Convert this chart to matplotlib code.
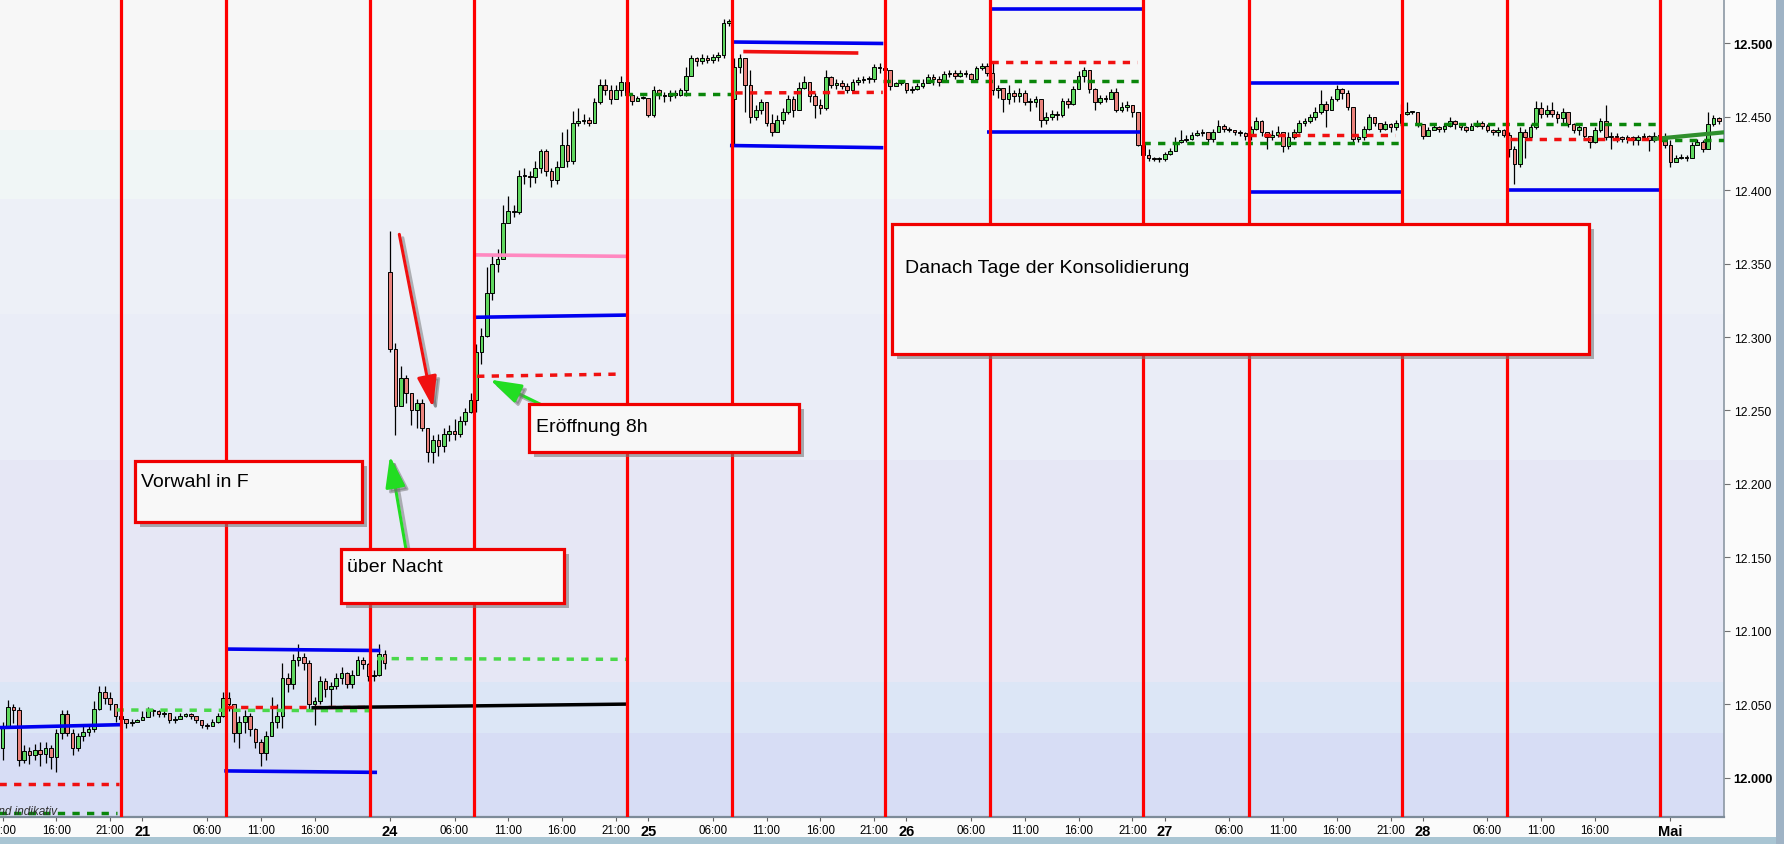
import matplotlib
matplotlib.use("Agg")
import matplotlib.pyplot as plt
import matplotlib.patheffects as pe
from matplotlib.patches import Rectangle, FancyArrowPatch
import numpy as np

plt.rcParams['font.family'] = ['Liberation Sans', 'DejaVu Sans']

# ---------------------------------------------------------------- data
# time axis in hours (Thu 20 Apr 00:00 = 0), weekends collapsed, 30-min candles
seg1_start = 11.0
seg1_open = 12020
seg1_close = [12035, 12048, 12046, 12012, 12018, 12015, 12019, 12016, 12020, 12014,
              12030, 12043, 12030, 12020, 12028, 12031, 12033, 12047, 12058, 12054,
              12050, 12042, 12040,
              12037, 12038, 12039, 12041, 12046, 12045, 12043, 12044, 12039, 12040,
              12042, 12043, 12042, 12039, 12036, 12035, 12038, 12042, 12054,
              12050, 12030, 12038, 12042, 12033, 12024, 12017, 12028, 12038, 12042,
              12068, 12064, 12080, 12082, 12078, 12050, 12052, 12066, 12060, 12062,
              12068, 12071, 12064, 12070, 12080, 12077, 12069, 12070, 12084, 12078]
seg1_high = [12038, 12053, 12050, 12048, 12022, 12021, 12023, 12024, 12024, 12022,
             12033, 12046, 12046, 12033, 12030, 12035, 12036, 12052, 12062, 12062,
             12058, 12048, 12043,
             12040, 12040, 12040, 12045, 12048, 12047, 12046, 12046, 12043, 12042,
             12044, 12044, 12044, 12042, 12039, 12037, 12040, 12044, 12058,
             12058, 12050, 12042, 12046, 12044, 12034, 12026, 12032, 12055, 12050,
             12078, 12071, 12084, 12091, 12085, 12080, 12055, 12069, 12068, 12065,
             12071, 12075, 12072, 12073, 12083, 12082, 12078, 12073, 12091, 12087]
seg1_low = [12012, 12034, 12037, 12008, 12010, 12009, 12012, 12008, 12010, 12006,
            12004, 12026, 12028, 12015, 12018, 12025, 12028, 12031, 12046, 12050,
            12046, 12038, 12036,
            12034, 12035, 12038, 12039, 12044, 12042, 12041, 12041, 12037, 12037,
            12040, 12041, 12040, 12037, 12034, 12033, 12035, 12037, 12041,
            12045, 12024, 12020, 12030, 12028, 12020, 12008, 12012, 12030, 12034,
            12034, 12058, 12060, 12076, 12073, 12046, 12036, 12050, 12055, 12049,
            12060, 12064, 12061, 12061, 12070, 12074, 12066, 12066, 12069, 12074]

seg2_start = 47.0
seg2_open = 12344
seg2_close = [12292, 12253, 12272, 12262, 12250, 12255, 12238, 12222, 12230, 12226,
              12234, 12236, 12234, 12243, 12249, 12257,
              12290, 12301, 12330, 12350, 12353, 12378, 12386, 12385, 12410, 12410,
              12409, 12415, 12427, 12413, 12407, 12416, 12431, 12420, 12446, 12447,
              12448, 12446, 12460, 12472, 12468, 12462, 12468, 12474,
              12465, 12461, 12463, 12463, 12451, 12468, 12465, 12464, 12466, 12465,
              12468, 12478, 12490, 12488, 12490, 12489, 12491, 12492, 12514, 12515]
seg2_high = [12372, 12296, 12280, 12274, 12262, 12258, 12258, 12238, 12233, 12234,
             12238, 12240, 12244, 12246, 12252, 12262,
             12295, 12306, 12348, 12356, 12360, 12390, 12396, 12390, 12414, 12415,
             12413, 12420, 12428, 12428, 12415, 12420, 12440, 12442, 12454, 12456,
             12452, 12450, 12463, 12476, 12476, 12472, 12472, 12478,
             12468, 12466, 12464, 12464, 12463, 12471, 12469, 12467, 12468, 12468,
             12470, 12484, 12492, 12491, 12493, 12492, 12493, 12494, 12517, 12517]
seg2_low = [12290, 12233, 12253, 12255, 12240, 12238, 12236, 12215, 12214, 12219,
            12222, 12229, 12230, 12232, 12240, 12248,
            12249, 12282, 12300, 12325, 12344, 12358, 12382, 12382, 12384, 12404,
            12402, 12405, 12412, 12410, 12402, 12404, 12418, 12416, 12418, 12444,
            12445, 12444, 12446, 12459, 12465, 12459, 12462, 12464,
            12462, 12458, 12461, 12462, 12450, 12450, 12462, 12460, 12461, 12463,
            12464, 12464, 12480, 12485, 12486, 12487, 12487, 12488, 12490, 12512]

seg3_start = 79.0
seg3_open = 12462
seg3_close = [12484, 12490, 12472, 12450, 12455, 12460, 12446, 12440, 12448, 12453,
              12462, 12455, 12470, 12474, 12464, 12458, 12456, 12477, 12472, 12473,
              12471, 12468, 12474, 12475, 12476, 12476, 12484, 12483,
              12482, 12471, 12473, 12473, 12468, 12469, 12471, 12473, 12477, 12476,
              12474, 12479, 12480, 12478, 12480, 12479, 12476, 12483, 12485, 12480,
              12468, 12470, 12462, 12466, 12464, 12466, 12460, 12460, 12462, 12448,
              12450, 12452, 12451, 12461, 12459, 12469, 12478, 12482, 12469, 12460,
              12463, 12462, 12467, 12455, 12457, 12458, 12453, 12431,
              12424, 12422, 12421, 12421, 12425, 12427, 12433, 12434, 12435, 12438,
              12439, 12440, 12435, 12440, 12444, 12442, 12441, 12440, 12439, 12437,
              12442, 12447, 12440, 12436, 12438, 12440, 12430, 12436, 12440, 12446,
              12447, 12450, 12453, 12459, 12455, 12462, 12469, 12466, 12457, 12435,
              12436, 12442, 12450, 12446, 12442, 12445, 12443, 12446,
              12452, 12453, 12453, 12445, 12437, 12441, 12443, 12442, 12444, 12447,
              12445, 12443, 12441, 12444, 12446, 12444, 12441, 12440, 12441, 12438,
              12428, 12418, 12440, 12436, 12443, 12456, 12452, 12455, 12452, 12449,
              12453, 12445, 12441, 12443, 12437, 12433, 12441, 12447, 12436, 12437,
              12436, 12435, 12436, 12434, 12436, 12437, 12434, 12437,
              12437, 12431, 12419, 12422, 12423, 12422, 12431, 12433, 12428, 12445,
              12449, 12447]
seg3_high = [12490, 12493, 12490, 12482, 12458, 12462, 12460, 12452, 12451, 12456,
             12465, 12464, 12474, 12478, 12472, 12466, 12462, 12482, 12478, 12476,
             12475, 12473, 12476, 12477, 12478, 12478, 12486, 12487,
             12486, 12478, 12474, 12474, 12472, 12471, 12473, 12476, 12479, 12479,
             12478, 12481, 12482, 12482, 12482, 12482, 12480, 12485, 12487, 12487,
             12488, 12472, 12470, 12472, 12468, 12470, 12468, 12463, 12464, 12460,
             12453, 12455, 12454, 12463, 12463, 12471, 12481, 12484, 12482, 12470,
             12465, 12465, 12469, 12470, 12460, 12461, 12457, 12452,
             12432, 12428, 12423, 12423, 12426, 12429, 12436, 12441, 12438, 12440,
             12441, 12442, 12439, 12442, 12448, 12445, 12443, 12441, 12441, 12440,
             12444, 12450, 12448, 12440, 12441, 12444, 12438, 12440, 12442, 12448,
             12449, 12452, 12457, 12468, 12461, 12464, 12472, 12470, 12468, 12457,
             12438, 12444, 12452, 12449, 12446, 12447, 12446, 12448,
             12459, 12460, 12454, 12452, 12440, 12443, 12445, 12444, 12446, 12450,
             12448, 12446, 12444, 12446, 12448, 12447, 12445, 12442, 12443, 12442,
             12440, 12430, 12443, 12442, 12445, 12461, 12460, 12458, 12460, 12454,
             12456, 12450, 12446, 12445, 12442, 12437, 12443, 12449, 12458, 12440,
             12439, 12437, 12438, 12437, 12438, 12439, 12438, 12440,
             12440, 12439, 12434, 12424, 12425, 12424, 12433, 12435, 12434, 12453,
             12451, 12450]
seg3_low = [12430, 12480, 12453, 12446, 12448, 12452, 12444, 12437, 12440, 12445,
            12452, 12450, 12455, 12469, 12460, 12449, 12452, 12455, 12470, 12469,
            12469, 12466, 12468, 12472, 12473, 12473, 12474, 12480,
            12478, 12468, 12471, 12472, 12466, 12466, 12468, 12470, 12473, 12472,
            12471, 12474, 12477, 12476, 12477, 12477, 12474, 12475, 12482, 12478,
            12465, 12463, 12453, 12459, 12460, 12460, 12458, 12454, 12457, 12443,
            12445, 12448, 12448, 12450, 12456, 12458, 12470, 12474, 12466, 12455,
            12459, 12460, 12462, 12453, 12453, 12454, 12450, 12430,
            12422, 12420, 12420, 12419, 12420, 12424, 12427, 12432, 12433, 12434,
            12437, 12437, 12432, 12433, 12440, 12440, 12440, 12438, 12437, 12434,
            12434, 12441, 12437, 12428, 12434, 12436, 12426, 12428, 12435, 12439,
            12444, 12446, 12448, 12452, 12443, 12455, 12461, 12462, 12455, 12432,
            12433, 12434, 12441, 12444, 12440, 12441, 12440, 12441,
            12447, 12451, 12452, 12443, 12435, 12439, 12441, 12440, 12440, 12443,
            12442, 12441, 12440, 12441, 12443, 12442, 12440, 12438, 12437, 12436,
            12423, 12404, 12416, 12422, 12434, 12442, 12449, 12450, 12450, 12446,
            12446, 12443, 12439, 12438, 12434, 12429, 12432, 12440, 12434, 12428,
            12433, 12433, 12432, 12431, 12431, 12434, 12427, 12433,
            12434, 12429, 12416, 12419, 12421, 12420, 12422, 12431, 12426, 12428,
            12444, 12445]

# session separators (08:00 / 22:00) in axis hours
session_marks = [22.0, 31.8, 45.1, 54.85, 69.0, 78.78, 93.0, 102.78, 117.0,
                 126.8, 141.05, 150.85, 165.0]

# drawn levels: (t_start, t_end, price_start, price_end)
blue_levels = [(10.7, 22.0, 12034, 12036), (31.8, 46.1, 12087.5, 12086.5),
               (31.6, 45.8, 12004.5, 12003.5), (54.85, 69.0, 12313.5, 12315),
               (78.9, 92.85, 12501, 12500), (78.6, 92.85, 12430.5, 12429),
               (102.76, 116.9, 12523.5, 12523.5), (102.45, 116.7, 12440, 12440),
               (126.78, 140.78, 12473, 12473), (126.8, 141.0, 12398.6, 12398.6),
               (150.85, 165.0, 12400.5, 12400.5)]
red_dashed_levels = [(10.7, 21.8, 11995.6, 11995.6), (31.8, 45.1, 12048, 12048),
                     (55.1, 68.5, 12273.3, 12274.8), (79.1, 92.8, 12466.3, 12466.7),
                     (102.9, 116.4, 12487.6, 12487.6), (126.8, 140.4, 12437.7, 12437.7),
                     (151.1, 164.7, 12434.9, 12434.9)]
darkgreen_dashed_levels = [(10.7, 21.6, 11975.5, 11975.5), (68.85, 78.76, 12465.6, 12465.6),
                           (92.85, 116.85, 12474.7, 12474.7), (117.0, 141.0, 12432, 12432),
                           (140.87, 165.0, 12445, 12445), (165.0, 171.0, 12434.5, 12434.5)]
lightgreen_dashed_levels = [(21.6, 45.6, 12046, 12045.5), (45.8, 69.0, 12081, 12080.5)]
pink_levels = [(54.85, 69.0, 12356, 12355)]
red_solid_levels = [(79.84, 90.53, 12494.5, 12493.5)]
black_levels = [(39.7, 69.0, 12047.5, 12050)]
green_trend = [(164.4, 171.0, 12434.9, 12439.5)]

# axis ticks
hour_ticks = [11, 16, 21, 30, 35, 40, 53, 58, 63, 68, 77, 82, 87, 92,
              101, 106, 111, 116, 125, 130, 135, 140, 149, 154, 159]
hour_labels = ['11:00', '16:00', '21:00', '06:00', '11:00', '16:00',
               '06:00', '11:00', '16:00', '21:00', '06:00', '11:00', '16:00', '21:00',
               '06:00', '11:00', '16:00', '21:00', '06:00', '11:00', '16:00', '21:00',
               '06:00', '11:00', '16:00']
day_ticks = [24, 47, 71, 95, 119, 143, 166]
day_labels = ['21', '24', '25', '26', '27', '28', 'Mai']
price_ticks = list(range(12000, 12501, 50))

# background zones (price boundaries) and colours
zone_edges = [11900, 12030, 12065, 12216, 12316, 12394, 12441, 12600]
zone_colors = ['#d7ddf5', '#dce6f6', '#e6e7f5', '#eaedf7', '#edf0f7', '#f0f6f6', '#f7f7f7']

# ---------------------------------------------------------------- figure
fig = plt.figure(figsize=(17.84, 8.45), dpi=100)
fig.patch.set_facecolor('#fbfbfb')
ax = fig.add_axes([0, 27 / 845, 1724 / 1784, 818 / 845])
XMIN, XMAX = 10.76, 170.98
YMIN, YMAX = 11973.1, 12530.3
ax.set_xlim(XMIN, XMAX)
ax.set_ylim(YMIN, YMAX)

for lo, hi, col in zip(zone_edges[:-1], zone_edges[1:], zone_colors):
    ax.axhspan(lo, hi, color=col, lw=0, zorder=0)


def build(start, first_open, closes, highs, lows):
    c = np.asarray(closes, float)
    t = start + 0.5 * np.arange(len(c))
    o = np.concatenate([[first_open], c[:-1]])
    h = np.maximum(np.asarray(highs, float), np.maximum(o, c))
    l = np.minimum(np.asarray(lows, float), np.minimum(o, c))
    return t, o, h, l, c


segs = [build(seg1_start, seg1_open, seg1_close, seg1_high, seg1_low),
        build(seg2_start, seg2_open, seg2_close, seg2_high, seg2_low),
        build(seg3_start, seg3_open, seg3_close, seg3_high, seg3_low)]
T = np.concatenate([s[0] for s in segs])
O = np.concatenate([s[1] for s in segs])
H = np.concatenate([s[2] for s in segs])
L = np.concatenate([s[3] for s in segs])
C = np.concatenate([s[4] for s in segs])

ax.vlines(T, L, H, color='black', lw=0.9, zorder=2)
up = C >= O
bottom = np.minimum(O, C)
height = np.maximum(np.abs(C - O), 0.7)
ax.bar(T[up], height[up], bottom=bottom[up], width=0.34, color='#5fd75f',
       edgecolor='black', lw=0.7, zorder=3)
ax.bar(T[~up], height[~up], bottom=bottom[~up], width=0.34, color='#ea837d',
       edgecolor='black', lw=0.7, zorder=3)


def draw_levels(levels, **kw):
    for t0, t1, p0, p1 in levels:
        ax.plot([t0, t1], [p0, p1], solid_capstyle='butt', dash_capstyle='butt', **kw)


dash = (0, (2.1, 2.1))
draw_levels(blue_levels, color='#0000f0', lw=2.6, zorder=4)
draw_levels(red_dashed_levels, color='#f01010', lw=2.5, ls=dash, zorder=4)
draw_levels(darkgreen_dashed_levels, color='#0a860a', lw=2.5, ls=dash, zorder=4)
draw_levels(lightgreen_dashed_levels, color='#4ad84a', lw=2.5, ls=dash, zorder=4)
draw_levels(pink_levels, color='#ff88c0', lw=2.6, zorder=4)
draw_levels(red_solid_levels, color='#f01010', lw=2.6, zorder=4)
draw_levels(black_levels, color='black', lw=2.5, zorder=4)
draw_levels(green_trend, color='#2e8f2e', lw=3.0, zorder=4)

for t in session_marks:
    ax.axvline(t, color='#ff0000', lw=2.3, zorder=5)

# ---------------------------------------------------------------- annotations
boxes = [  # text, t0, t1, p_low, p_high, text_t, text_p
    ("Vorwahl in F", 23.34, 44.38, 12174.1, 12215.6, 23.9, 12201.5),
    ("über Nacht", 42.45, 63.18, 12118.8, 12155.6, 43.0, 12143.5),
    ("Eröffnung 8h", 59.92, 85.01, 12221.7, 12254.4, 60.55, 12239.0),
    ("Danach Tage der Konsolidierung", 93.66, 158.48, 12288.5, 12377.0, 94.83, 12347.4),
]
shadow = [pe.SimplePatchShadow(offset=(3.5, -3.5), shadow_rgbFace='#7a7a7a', alpha=0.6),
          pe.Normal()]
for txt, t0, t1, p0, p1, tt, tp in boxes:
    r = Rectangle((t0, p0), t1 - t0, p1 - p0, facecolor='#f8f8f8', edgecolor='#f00000',
                  lw=2.3, zorder=7)
    r.set_path_effects(shadow)
    ax.add_patch(r)
    ax.text(tt, tp, txt, fontsize=14, color='black', ha='left', va='center', zorder=8)

arrows = [  # tail (t, p), head (t, p), colour
    ((47.87, 12370.0), (51.0, 12252.0), '#f01010'),
    ((48.5, 12155.0), (47.0, 12219.0), '#22dd22'),
    ((61.25, 12253.3), (56.3, 12271.0), '#22dd22'),
]
for (ta, pa), (tb, pb), col in arrows:
    a = FancyArrowPatch((ta, pa), (tb, pb),
                        arrowstyle='-|>,head_length=0.95,head_width=0.3',
                        mutation_scale=20, color=col, lw=2.2, shrinkA=0, shrinkB=0,
                        zorder=6)
    a.set_path_effects([pe.SimpleLineShadow(offset=(2.5, -2.5), shadow_color='#707070', alpha=0.5),
                        pe.SimplePatchShadow(offset=(2.5, -2.5), shadow_rgbFace='#707070', alpha=0.5),
                        pe.Normal()])
    ax.add_patch(a)

ax.text(0.033, 0.0075, 'Kurse sind indikativ', transform=ax.transAxes, ha='right',
        va='center', style='italic', fontsize=8.5, color='#303030', zorder=9)

# ---------------------------------------------------------------- axes styling
for s in ['top', 'left']:
    ax.spines[s].set_visible(False)
ax.spines['bottom'].set_color('#7d8b99')
ax.spines['bottom'].set_linewidth(1.6)
ax.spines['right'].set_color('#8c98a4')
ax.spines['right'].set_linewidth(1.2)

ax.yaxis.tick_right()
ax.set_yticks(price_ticks)
ax.set_yticklabels([f"{p // 1000}.{p % 1000:03d}" for p in price_ticks])
for p, lab in zip(price_ticks, ax.get_yticklabels()):
    if p % 500 == 0:
        lab.set_fontweight('bold')
        lab.set_fontsize(9.3)
    else:
        lab.set_fontsize(8.8)
ax.tick_params(axis='y', length=4, width=0.8, color='#707070', pad=3, labelcolor='black')

xt = hour_ticks + day_ticks
xl = hour_labels + day_labels
ax.set_xticks(xt)
ax.set_xticklabels(xl)
for lab, t in zip(ax.get_xticklabels(), xt):
    if t in day_ticks:
        lab.set_fontweight('bold')
        lab.set_fontsize(10.5)
    else:
        lab.set_fontsize(8.3)
ax.tick_params(axis='x', length=3, width=0.8, color='#606060', pad=2, labelcolor='black')

# window frame bands
fig.add_artist(Rectangle((0, 0), 1, 7 / 845, transform=fig.transFigure,
                         facecolor='#a9c5d3', edgecolor='none', zorder=10))
fig.add_artist(Rectangle((1776 / 1784, 0), 8 / 1784, 1, transform=fig.transFigure,
                         facecolor='#9fb3c5', edgecolor='none', zorder=10))

fig.savefig('out.png', dpi=100)
